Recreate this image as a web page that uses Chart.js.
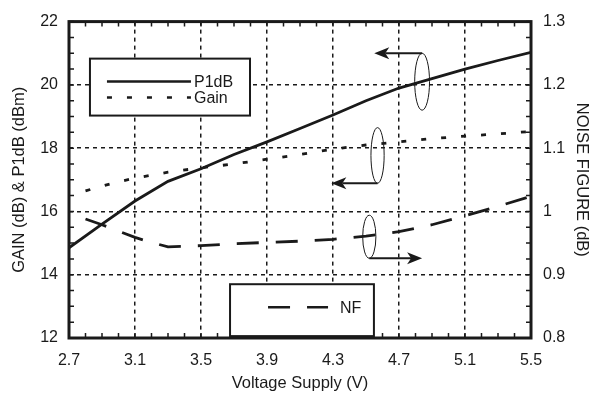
<!DOCTYPE html>
<html>
<head>
<meta charset="utf-8">
<script src="https://cdn.jsdelivr.net/npm/chart.js@4"></script>
<style>
	html, body { margin: 0; padding: 0; background: #fff; }
	#wrap { width: 597px; height: 402px; position: relative; }
</style>
</head>
<body>
<div id="wrap"><canvas id="myChart"></canvas></div>
<script>
// values
const p1dbVoltage = [2.7, 2.9, 3.1, 3.3, 3.5, 3.7, 3.9, 4.1, 4.3, 4.5, 4.7, 4.9, 5.1, 5.3, 5.5];
const p1db = [14.85, 15.6, 16.33, 16.95, 17.35, 17.8, 18.2, 18.62, 19.05, 19.5, 19.9, 20.2, 20.5, 20.77, 21.03];

const gainVoltage = [2.8, 2.9, 3.0, 3.1, 3.3, 3.5, 3.7, 3.9, 4.1, 4.3, 4.5, 4.7, 4.9, 5.1, 5.3, 5.5];
const gain = [16.65, 16.8, 16.94, 17.05, 17.24, 17.38, 17.5, 17.65, 17.8, 17.97, 18.1, 18.2, 18.3, 18.38, 18.45, 18.53];

const nfVoltage = [2.8, 2.9, 3.0, 3.1, 3.2, 3.3, 3.5, 3.7, 3.9, 4.1, 4.3, 4.5, 4.7, 4.9, 5.1, 5.3, 5.5];
const nf = [0.988, 0.979, 0.969, 0.959, 0.951, 0.944, 0.946, 0.949, 0.951, 0.953, 0.956, 0.961, 0.968, 0.979, 0.993, 1.008, 1.024];

const xTicks = [2.7, 3.1, 3.5, 3.9, 4.3, 4.7, 5.1, 5.5];
const leftTicks = [12, 14, 16, 18, 20, 22];
const rightTicks = [0.8, 0.9, 1, 1.1, 1.2, 1.3];

const FONT = 'Liberation Sans, Arial, Helvetica, sans-serif';
const INK = '#1a1a1a';

function toPoints(xs, ys)
{
	return xs.map((x, i) => ({ x: x, y: ys[i] }));
}

// frame, minor ticks, legend boxes and the ellipse/arrow callouts
const decorPlugin = {
	id: 'decor',
	afterDatasetsDraw(chart) {
		const ctx = chart.ctx;
		const a = chart.chartArea;
		const xs = chart.scales.x;
		const yl = chart.scales.yLeft;
		const px = v => xs.getPixelForValue(v);
		const py = v => yl.getPixelForValue(v);

		ctx.save();
		ctx.strokeStyle = INK;
		ctx.fillStyle = INK;
		ctx.setLineDash([]);

		// minor ticks
		ctx.lineWidth = 1.5;
		ctx.beginPath();
		for (let i = 0; i <= 28; i++)
		{
			const x = px(2.7 + i * 0.1);
			ctx.moveTo(x, a.bottom); ctx.lineTo(x, a.bottom - 5);
			ctx.moveTo(x, a.top); ctx.lineTo(x, a.top + 5);
		}
		for (let i = 0; i <= 20; i++)
		{
			const y = py(12 + i * 0.5);
			ctx.moveTo(a.left, y); ctx.lineTo(a.left + 5, y);
			ctx.moveTo(a.right, y); ctx.lineTo(a.right - 5, y);
		}
		ctx.stroke();

		// frame
		ctx.lineWidth = 3;
		ctx.strokeRect(a.left, a.top, a.right - a.left, a.bottom - a.top);

		// legend boxes
		const ds = chart.data.datasets;
		ctx.font = '16px ' + FONT;
		ctx.textBaseline = 'middle';
		ctx.textAlign = 'left';

		function legendBox(x0, x1, y0, y1, rows, sampleStart, sampleEnd, textOff)
		{
			const l = px(x0), r = px(x1), t = py(y0), b = py(y1);
			ctx.fillStyle = '#fff';
			ctx.fillRect(l, t, r - l, b - t);
			ctx.lineWidth = 2;
			ctx.setLineDash([]);
			ctx.strokeStyle = INK;
			ctx.strokeRect(l, t, r - l, b - t);
			rows.forEach(row => {
				const d = ds[row.index];
				const y = t + row.dy;
				ctx.lineWidth = 2.5;
				ctx.setLineDash(d.borderDash || []);
				ctx.beginPath();
				ctx.moveTo(l + sampleStart, y);
				ctx.lineTo(l + sampleEnd, y);
				ctx.stroke();
				ctx.setLineDash([]);
				ctx.fillStyle = INK;
				ctx.fillText(d.label, l + textOff, y + 1);
			});
		}
		legendBox(2.827, 3.797, 20.83, 19.03, [{ index: 0, dy: 23 }, { index: 1, dy: 39 }], 17, 101, 104);
		legendBox(3.676, 4.548, 13.70, 12.06, [{ index: 2, dy: 23 }], 38, 98, 110);

		// callouts
		function arrowHead(x, y, dir)
		{
			ctx.beginPath();
			ctx.moveTo(x, y);
			ctx.lineTo(x - dir * 15, y - 6);
			ctx.lineTo(x - dir * 11, y);
			ctx.lineTo(x - dir * 15, y + 6);
			ctx.closePath();
			ctx.fill();
		}
		function callout(cx, cy, hw, hh, fromTop, toX)
		{
			const x = px(cx), y = py(cy);
			const rx = px(cx + hw) - x;
			const ry = y - py(cy + hh);
			ctx.setLineDash([]);
			ctx.lineWidth = 1;
			ctx.beginPath();
			ctx.ellipse(x, y, rx, ry, 0, 0, Math.PI * 2);
			ctx.stroke();
			const ay = fromTop ? y - ry : y + ry;
			const tx = px(toX);
			const dir = tx < x ? -1 : 1;
			ctx.lineWidth = 2;
			ctx.beginPath();
			ctx.moveTo(x, ay);
			ctx.lineTo(tx - dir * 11, ay);
			ctx.stroke();
			arrowHead(tx, ay, dir);
		}
		callout(4.84, 20.1, 0.045, 0.9, true, 4.55);
		callout(4.57, 17.77, 0.04, 0.88, false, 4.29);
		callout(4.52, 15.2, 0.04, 0.68, false, 4.84);

		ctx.restore();
	}
};

const ctx = document.getElementById('myChart').getContext('2d');
const myChart = new Chart(ctx, {
	type: 'line',
	data: {
		datasets: [
			{
				label: 'P1dB',
				data: toPoints(p1dbVoltage, p1db),
				yAxisID: 'yLeft',
				borderColor: INK,
				borderWidth: 2.8,
				pointRadius: 0,
				tension: 0
			},
			{
				label: 'Gain',
				data: toPoints(gainVoltage, gain),
				yAxisID: 'yLeft',
				borderColor: INK,
				borderWidth: 2.8,
				borderDash: [5, 15],
				pointRadius: 0,
				tension: 0
			},
			{
				label: 'NF',
				data: toPoints(nfVoltage, nf),
				yAxisID: 'yRight',
				borderColor: INK,
				borderWidth: 2.8,
				borderDash: [22, 17],
				pointRadius: 0,
				tension: 0
			}
		]
	},
	options: {
		responsive: true,
		maintainAspectRatio: false,
		animation: false,
		layout: { padding: { top: 21, left: 0, right: 0, bottom: 0 } },
		plugins: {
			legend: { display: false },
			tooltip: { enabled: false }
		},
		scales: {
			x: {
				type: 'linear',
				min: 2.7,
				max: 5.5,
				afterBuildTicks: scale => { scale.ticks = xTicks.map(v => ({ value: v })); },
				afterFit: scale => { scale.height = 64; },
				ticks: {
					color: INK,
					font: { family: FONT, size: 16 },
					padding: 13,
					callback: v => Number(v).toFixed(1)
				},
				grid: { color: INK, lineWidth: 1.5, drawTicks: false },
				border: { display: false, dash: [4, 4] },
				title: {
					display: true,
					text: 'Voltage Supply (V)',
					color: INK,
					font: { family: FONT, size: 16.5 },
					padding: { top: 0, bottom: 9 }
				}
			},
			yLeft: {
				type: 'linear',
				position: 'left',
				min: 12,
				max: 22,
				afterBuildTicks: scale => { scale.ticks = leftTicks.map(v => ({ value: v })); },
				afterFit: scale => { scale.width = 69; },
				ticks: {
					color: INK,
					font: { family: FONT, size: 16 },
					padding: 11
				},
				grid: { color: INK, lineWidth: 1.5, drawTicks: false },
				border: { display: false, dash: [4, 4] },
				title: {
					display: true,
					text: 'GAIN (dB) & P1dB (dBm)',
					color: INK,
					font: { family: FONT, size: 16.5 },
					padding: { top: 10, bottom: 0 }
				}
			},
			yRight: {
				type: 'linear',
				position: 'right',
				min: 0.8,
				max: 1.3,
				afterBuildTicks: scale => { scale.ticks = rightTicks.map(v => ({ value: v })); },
				afterFit: scale => { scale.width = 66; },
				ticks: {
					color: INK,
					font: { family: FONT, size: 16 },
					padding: 12,
					callback: v => String(Math.round(v * 10) / 10)
				},
				grid: { drawOnChartArea: false, drawTicks: false },
				border: { display: false },
				title: {
					display: true,
					text: 'NOISE FIGURE (dB)',
					color: INK,
					font: { family: FONT, size: 16.5 },
					padding: { top: 6, bottom: 0 }
				}
			}
		}
	},
	plugins: [decorPlugin]
});
</script>
</body>
</html>
